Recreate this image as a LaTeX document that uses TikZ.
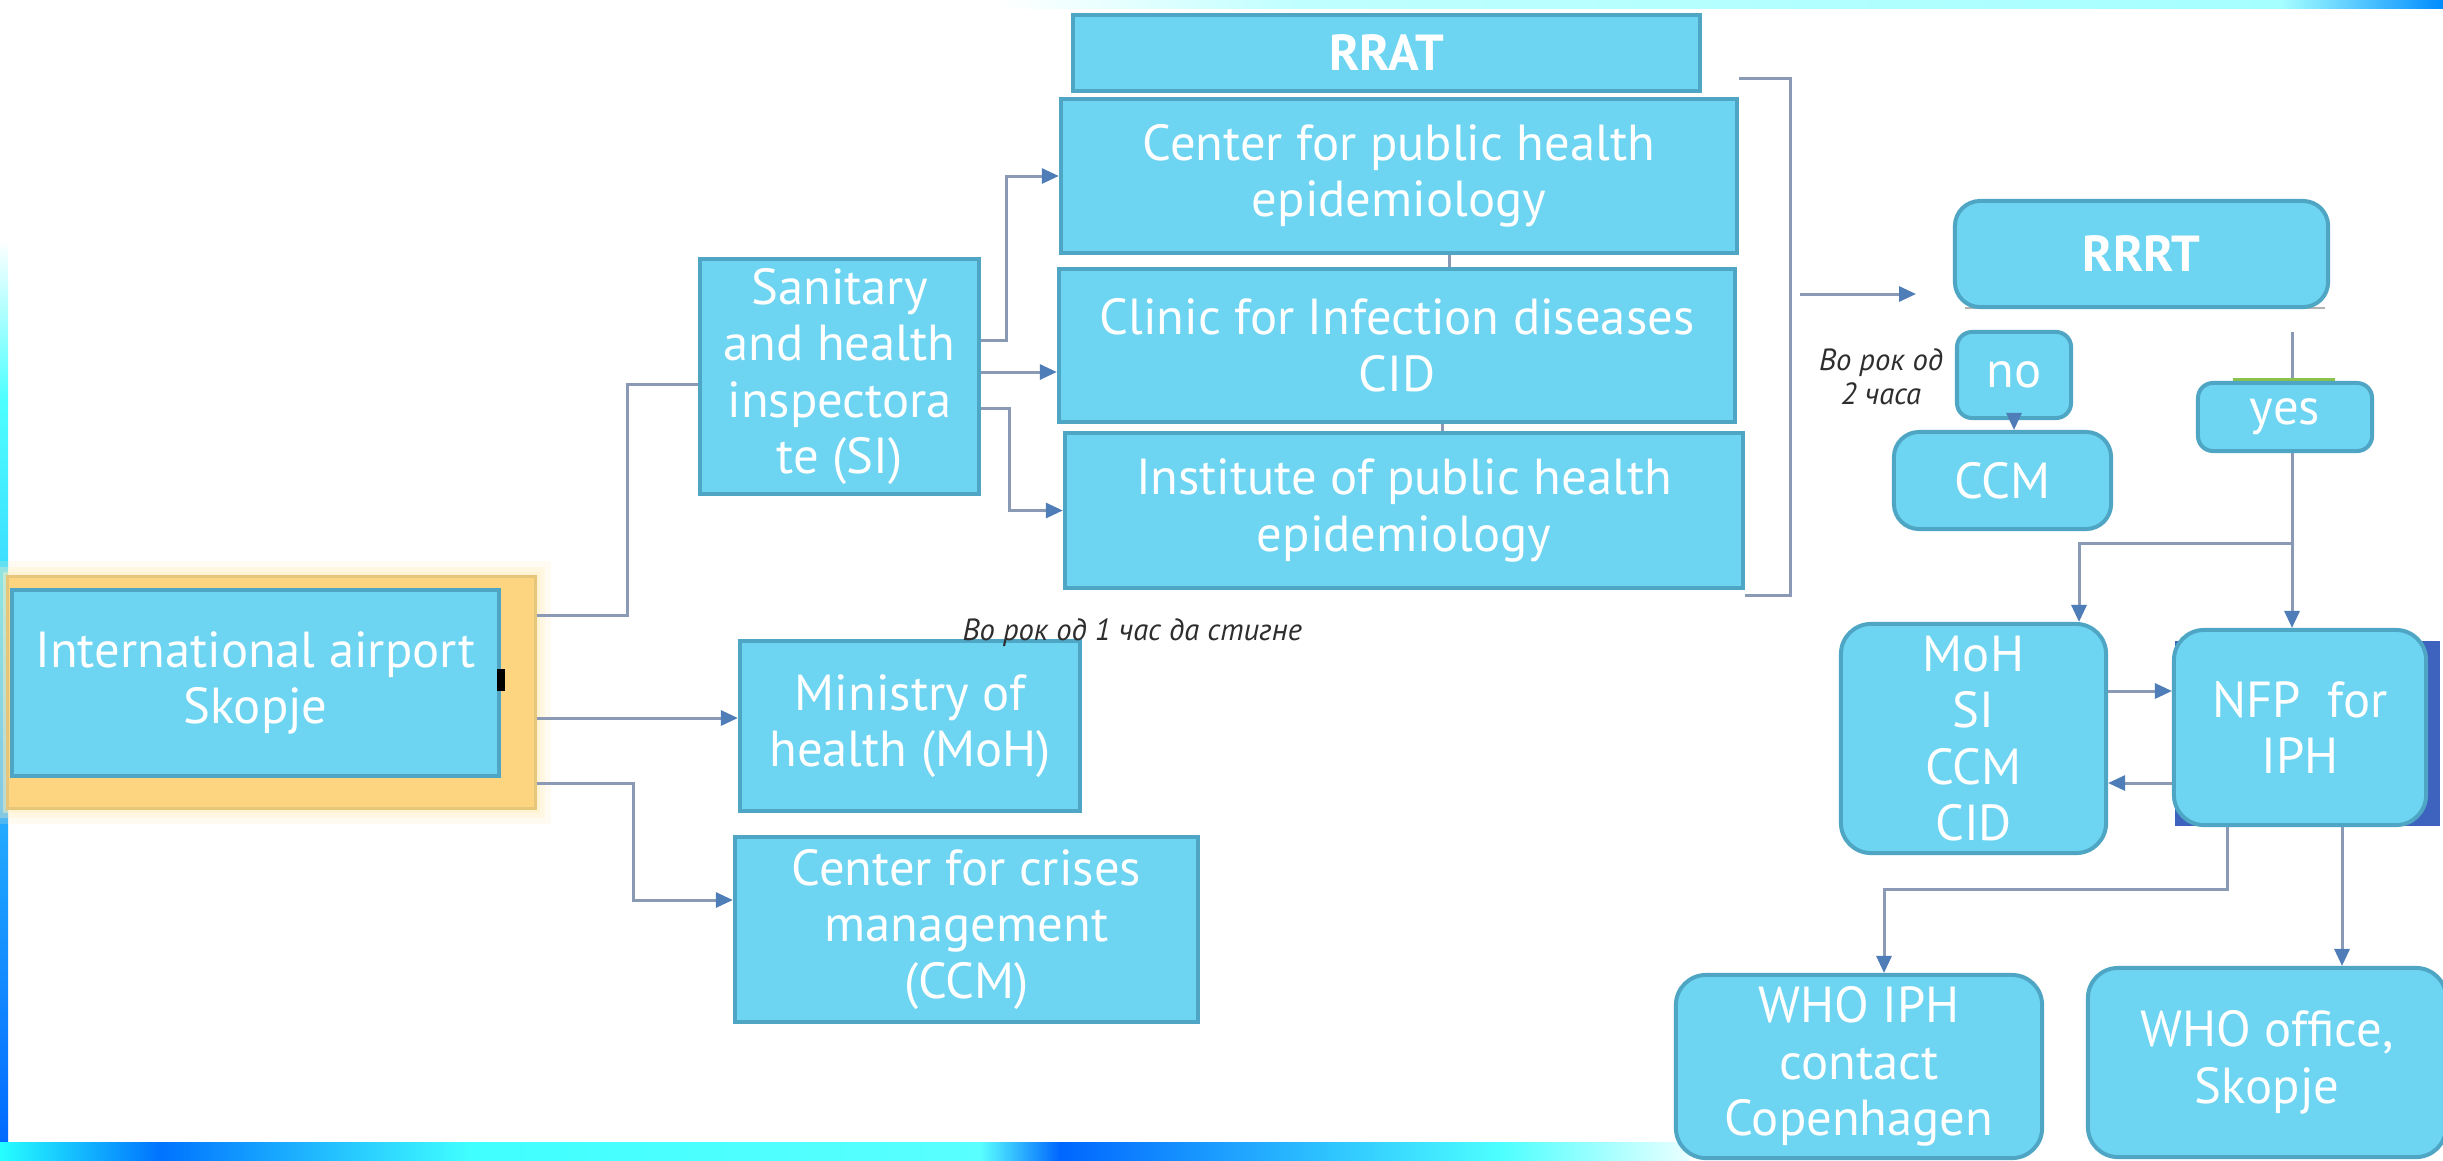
\documentclass[tikz,border=0pt]{standalone}
\usepackage{fontspec}
\setmainfont{PT Sans}
\usetikzlibrary{arrows.meta}

\definecolor{boxfill}{HTML}{6DD5F1}
\definecolor{boxedge}{HTML}{4FA6C4}
\definecolor{linecol}{HTML}{8A9AB5}
\definecolor{tipcol}{HTML}{4F7DB8}
\definecolor{orangefill}{HTML}{FDD580}
\definecolor{orangeedge}{HTML}{E6C67A}
\definecolor{glowpale}{HTML}{FFEFC0}
\definecolor{navyback}{HTML}{3D63BF}
\definecolor{notecol}{HTML}{2E2E2E}
\definecolor{leafgreen}{HTML}{8BC34A}

\newcommand\boxfont{\fontsize{14.4}{16.1}\selectfont}
\newcommand\notefont{\fontsize{8.7}{9.7}\selectfont\itshape}

\tikzset{
  box/.style={draw=boxedge, fill=boxfill, line width=0.4mm, inner sep=0pt,
    align=center, text=white, font=\boxfont},
  rbox/.style={box, rounded corners=2.5mm},
  conn/.style={draw=linecol, line width=0.3mm},
  arr/.style={conn, -{Triangle[length=1.7mm,width=1.5mm,color=tipcol]}},
  note/.style={text=notecol, font=\notefont, align=center, inner sep=0pt},
}

\begin{document}
\begin{tikzpicture}[x=0.01cm, y=-0.01cm]
\useasboundingbox (0,0) rectangle (2443,1160);
\clip (0,0) rectangle (2443,1160);

% page and decorative frame strips
\fill[white] (0,0) rectangle (2443,1160);
\shade[top color=white, bottom color=cyan!70!white] (0,240) rectangle (8,400);
\shade[top color=cyan!70!white, bottom color=blue!60!cyan] (0,400) rectangle (8,1160);
\shade[left color=white, right color=cyan!25!white] (1000,0) rectangle (1300,8);
\shade[left color=cyan!25!white, right color=cyan!35!white] (1300,0) rectangle (2280,8);
\shade[left color=cyan!35!white, right color=blue!45!cyan] (2280,0) rectangle (2443,8);
\shade[left color=cyan!85!white, right color=blue!55!cyan] (0,1142) rectangle (160,1160);
\shade[left color=blue!55!cyan, right color=cyan!75!white] (160,1142) rectangle (470,1160);
\shade[left color=cyan!75!white, right color=cyan!65!white] (470,1142) rectangle (980,1160);
\shade[left color=cyan!65!white, right color=blue!60!cyan] (980,1142) rectangle (1060,1160);
\shade[left color=blue!60!cyan, right color=cyan!70!white] (1060,1142) rectangle (1500,1160);
\shade[left color=cyan!70!white, right color=cyan!8!white] (1500,1142) rectangle (1690,1160);

% airport with its orange frame and soft glow
\fill[glowpale, opacity=0.2] (-8,561) rectangle (551,824);
\fill[glowpale, opacity=0.3] (-2,567) rectangle (545,818);
\fill[glowpale, opacity=0.45] (3,572) rectangle (540,813);
\node[draw=orangeedge, fill=orangefill, line width=0.3mm, minimum width=52.7mm,
  minimum height=23.1mm, inner sep=0pt] (apframe) at (271.5,692.5) {};
\node[box, minimum width=48.7mm, minimum height=18.6mm] (airport) at (255.5,683)
  {International airport\\Skopje};
\fill[black] (497,669) rectangle (505,691);

% left column
\node[box, minimum width=27.9mm, minimum height=23.5mm] (si) at (839.5,376.5)
  {Sanitary\\and health\\inspectora\\te (SI)};
\node[box, minimum width=34mm, minimum height=17mm] (moh) at (910,726)
  {Ministry of\\health (MoH)};
\node[box, minimum width=46.3mm, minimum height=18.5mm] (ccm) at (966.5,929.5)
  {Center for crises\\management\\(CCM)};

% RRAT column
\node[box, minimum width=62.7mm, minimum height=7.6mm, font=\boxfont\bfseries] (rrat)
  at (1386.5,53) {RRAT};
\node[box, minimum width=67.6mm, minimum height=15.4mm] (cph) at (1399,176)
  {Center for public health\\epidemiology};
\node[box, minimum width=67.6mm, minimum height=15.3mm] (cid) at (1397,345.5)
  {Clinic for Infection diseases\\CID};
\node[box, minimum width=67.8mm, minimum height=15.5mm] (iph) at (1404,510.5)
  {Institute of public health\\epidemiology};

\node[note, anchor=west] (onehour) at (962,633) {Во рок од 1 час да стигне};

% connectors from the airport and the inspectorate
\draw[conn] (apframe.east |- 0,615) -- (627,615) |- (si.west |- 0,384);
\draw[arr] (apframe.east |- 0,718) -- (moh.west |- 0,718);
\draw[arr] (apframe.east |- 0,783) -- (633,783) |- (ccm.west |- 0,900);
\draw[arr] (si.east |- 0,340) -- (1006,340) |- (cph.west);
\draw[arr] (si.east |- 0,372) -- (cid.west |- 0,372);
\draw[arr] (si.east |- 0,408) -- (1009,408) |- (iph.west);
\draw[conn] (cph.south -| 1449,0) -- (cid.north -| 1449,0);
\draw[conn] (cid.south -| 1442,0) -- (iph.north -| 1442,0);

% bracket gathering the RRAT column
\draw[conn] (cph.east |- 0,78) -- (1790,78) -- (1790,595) -- (iph.east |- 0,595);
\coordinate (rfrom) at (1800,294);
\coordinate (rto) at (1916,294);
\draw[arr] (rfrom) -- (rto);

% RRRT decision
\draw[gray!60, line width=0.2mm] (1965,308) -- (2325,308);
\node[rbox, minimum width=37.3mm, minimum height=10.6mm, font=\boxfont\bfseries] (rrrt)
  at (2141.5,254) {RRRT};
\node[note] (twohours) at (1881,377) {Во рок од\\2 часа};

\coordinate (ystart) at (2292,332);
\coordinate (ysplit) at (2292,543);
\draw[conn] (ystart) -- (ysplit);
\fill[leafgreen] (2233,378) rectangle (2335,386);
\node[rbox, rounded corners=1.5mm, minimum width=17.4mm, minimum height=6.8mm] (yes)
  at (2285,417) {yes};
\node[rbox, rounded corners=1.5mm, minimum width=11.4mm, minimum height=8.6mm] (no)
  at (2014,375) {no};
\node[rbox, minimum width=21.7mm, minimum height=9.7mm] (ccmb) at (2002.5,480.5) {CCM};
\draw[arr] (no.south) -- (no.south |- ccmb.north);

% notification block
\node[fill=navyback, minimum width=26.5mm, minimum height=18.5mm, inner sep=0pt]
  (nfpback) at (2307.5,733.5) {};
\node[rbox, rounded corners=3mm, minimum width=25.2mm, minimum height=19.5mm] (nfp)
  at (2300,727.5) {NFP\ \ for\\IPH};
\node[rbox, rounded corners=3mm, minimum width=26.5mm, minimum height=22.9mm] (grp)
  at (1973.5,738.5) {MoH\\SI\\CCM\\CID};
\draw[arr] (ysplit) -- (nfp.north -| 2292,0);
\draw[arr] (ysplit) -| (grp.north -| 2079,0);
\draw[arr] (grp.east |- 0,691) -- (nfp.west |- 0,691);
\draw[arr] (nfp.west |- 0,783) -- (grp.east |- 0,783);

% WHO contacts
\node[rbox, rounded corners=3mm, minimum width=36.6mm, minimum height=18.3mm] (whoiph)
  at (1859,1066.5) {WHO IPH\\contact\\Copenhagen};
\node[rbox, rounded corners=3mm, minimum width=35.8mm, minimum height=18.9mm] (whooff)
  at (2267,1062.5) {WHO office,\\Skopje};
\draw[arr] (nfp.south -| 2227,0) -- (2227,889) -| (whoiph.north -| 1884,0);
\draw[arr] (nfp.south -| 2342,0) -- (whooff.north -| 2342,0);
\end{tikzpicture}
\end{document}
